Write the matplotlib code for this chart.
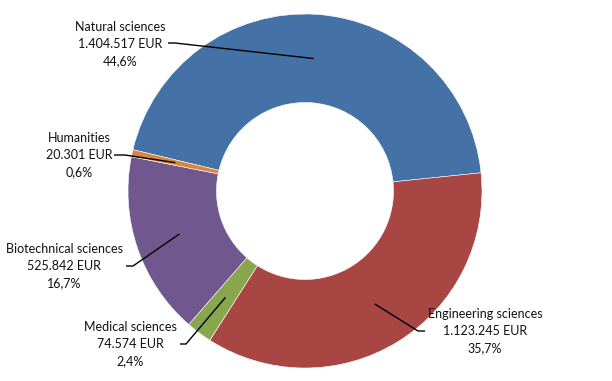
import matplotlib.pyplot as plt
import numpy as np

# data
categories = ["Natural sciences", "Engineering sciences", "Medical sciences",
              "Biotechnical sciences", "Humanities"]
amounts = [1404517, 1123245, 74574, 525842, 20301]
colors = ["#4471A6", "#A84644", "#88A64E", "#70588F", "#DB843D"]

# label layout (pixel coords, y from top): text centre, leader start, elbow
text_pos = [(120, 44), (485, 331), (130, 344), (64, 266), (79, 155)]
leader_start = [(168, 43), (425, 331), (180, 344), (126, 266), (114, 155)]
leader_elbow = [(175, 43), (418, 331), (186, 344), (133, 266), (125, 155)]

W, H = 612, 381
cx, cy, R = 305, 190, 177


def fmt_eur(v):
    return f"{v:,}".replace(",", ".") + " EUR"


def fmt_pct(p):
    return f"{p:.1f}%".replace(".", ",")


fig = plt.figure(figsize=(6.12, 3.81), dpi=100)
ax = fig.add_axes([0, 0, 1, 1])

wedges, _ = ax.pie(amounts, colors=colors, startangle=166.5, counterclock=False,
                   center=(cx, cy), radius=R, frame=True,
                   wedgeprops=dict(width=R * 0.5, edgecolor="white", linewidth=0.4))
ax.set_xlim(0, W)
ax.set_ylim(0, H)
ax.set_aspect("equal")
ax.axis("off")

total = sum(amounts)
for i, w in enumerate(wedges):
    mid = np.deg2rad((w.theta1 + w.theta2) / 2)
    px = cx + 0.75 * R * np.cos(mid)
    py = cy + 0.75 * R * np.sin(mid)
    sx, sy = leader_start[i]
    ex, ey = leader_elbow[i]
    ax.plot([sx, ex, px], [H - sy, H - ey, py], color="black", lw=1.0,
            solid_capstyle="butt")
    tx, ty = text_pos[i]
    txt = f"{categories[i]}\n{fmt_eur(amounts[i])}\n{fmt_pct(amounts[i] / total * 100)}"
    ax.text(tx, H - ty, txt, ha="center", va="center", multialignment="center",
            fontsize=9, family="Lato", color="#111111", linespacing=1.5)

fig.savefig("out.png", dpi=100)
